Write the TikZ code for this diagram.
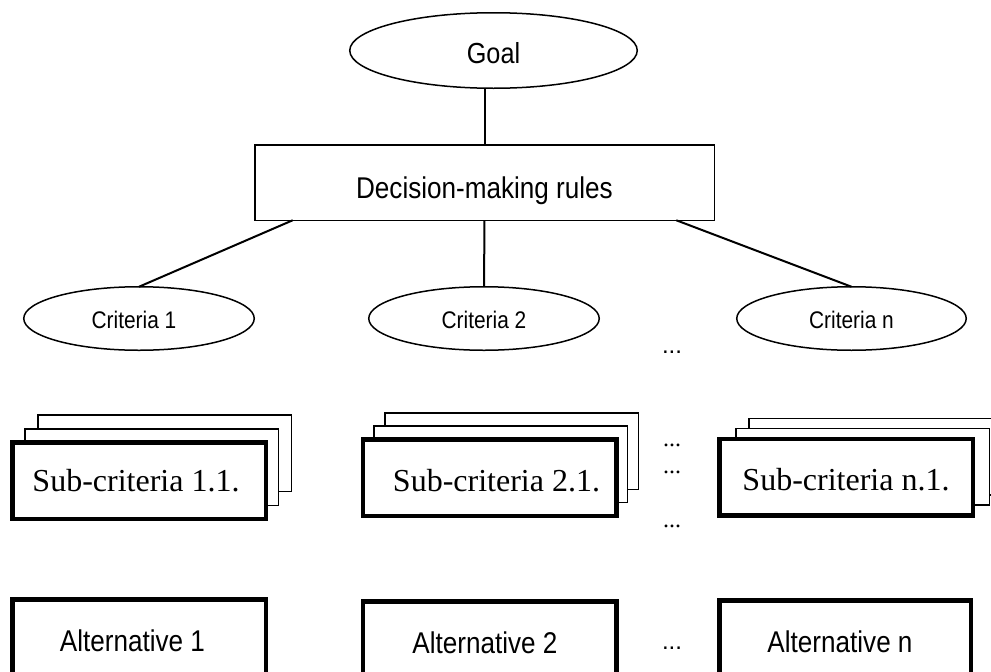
\documentclass[tikz,border=0pt]{standalone}
\usepackage{fontspec}
\usepackage{graphicx}
\setmainfont{Liberation Serif}
\setsansfont{Liberation Sans}
\usetikzlibrary{shapes.geometric,backgrounds}

% slightly condensed sans labels
\newcommand{\narrowtext}[1]{\scalebox{0.87}[1]{#1}}

\begin{document}
\begin{tikzpicture}[x=1pt, y=-1pt,
  every node/.style={inner sep=0pt, outer sep=0pt},
  oval/.style={ellipse, draw, line width=1.5pt, fill=white, text depth=0pt},
  goalshape/.style={oval, minimum width=287.5pt, minimum height=75.5pt,
    text height=25pt, font=\fontsize{29}{29}\selectfont\sffamily},
  critshape/.style={oval, minimum width=230.5pt, minimum height=63.5pt,
    text height=19pt, font=\fontsize{24}{24}\selectfont\sffamily},
  rulebox/.style={rectangle, draw, line width=1.5pt, fill=white,
    minimum width=459.5pt, minimum height=75.5pt, text depth=0pt,
    text height=31pt, font=\fontsize{30}{30}\selectfont\sffamily},
  frontbox/.style={rectangle, draw, line width=4.5pt, fill=white,
    minimum width=253.5pt, minimum height=76.5pt, text depth=0pt},
  subbox/.style={frontbox, font=\fontsize{32}{32}\selectfont\rmfamily},
  altbox/.style={frontbox, text height=28pt,
    font=\fontsize{30}{30}\selectfont\sffamily},
  paper/.style={draw, line width=1.5pt, fill=white},
  link/.style={line width=2pt},
  dots/.style={anchor=base, font=\fontsize{24}{24}\selectfont\sffamily},
  subdots/.style={anchor=base, font=\fontsize{24}{24}\selectfont\rmfamily}
]
\useasboundingbox (0,0) rectangle (991,672);
\clip (0,0) rectangle (991,672);

% top of the hierarchy
\node[goalshape] (goal) at (493.5,50.5) {\narrowtext{Goal}};
\node[rulebox] (rules) at (484.5,182.5) {\narrowtext{Decision-making rules}};

% criteria
\node[critshape] (c1) at (139,318.5) {\narrowtext{Criteria 1}\hspace*{10pt}};
\node[critshape] (c2) at (484,318.5) {\narrowtext{Criteria 2}};
\node[critshape, minimum width=229.5pt] (cn) at (851.5,318.5) {\narrowtext{Criteria n}};

\draw[link] (rules.north) -- (rules.north |- goal.south);
\draw[link] ([xshift=38pt]rules.south west) -- (c1.north);
\draw[link] (rules.south) -- (c2.north);
\draw[link] ([xshift=-38pt]rules.south east) -- (cn.north);

% sub-criteria (front sheets)
\node[subbox, text height=22pt] (s1) at (139,480.5) {Sub-criteria 1.1.\hspace*{6pt}};
\node[subbox, text height=28pt] (s2) at (489.5,477.5) {\hspace*{14pt}Sub-criteria 2.1.};
\node[subbox, text height=26pt] (sn) at (846,477) {Sub-criteria n.1.};

% stacked sheets behind each sub-criteria box
\begin{scope}[on background layer]
  \fill[white] (0,0) rectangle (991,672);
  \draw[paper] ([shift={(25.5,-27.5)}]s1.south west) rectangle ([shift={(25.5,-27.5)}]s1.north east);
  \draw[paper] ([shift={(12.5,-13.5)}]s1.south west) rectangle ([shift={(12.5,-13.5)}]s1.north east);
  \draw[paper] ([shift={(22,-26.5)}]s2.south west) rectangle ([shift={(22,-26.5)}]s2.north east);
  \draw[paper] ([shift={(11,-13.5)}]s2.south west) rectangle ([shift={(11,-13.5)}]s2.north east);
  \draw[paper] ([shift={(29.5,-20.5)}]sn.south west) rectangle ([shift={(29.5,-20.5)}]sn.north east);
  \draw[paper] ([shift={(16.5,-10.5)}]sn.south west) rectangle ([shift={(16.5,-10.5)}]sn.north east);
\end{scope}

% alternatives
\node[altbox] (a1) at (139,637.5) {\narrowtext{Alternative 1}\hspace*{13pt}};
\node[altbox] (a2) at (489.5,639.5) {\narrowtext{Alternative 2}\hspace*{9pt}};
\node[altbox, minimum width=251.5pt] (an) at (845,638.5) {\narrowtext{Alternative n}\hspace*{10pt}};

% ellipsis marks
\node[dots] (dc) at (672,353.5) {...};
\node[subdots] (ds1) at (672,446.5) {...};
\node[subdots] (ds2) at (672,473.5) {...};
\node[subdots] (ds3) at (672,527) {...};
\node[dots] (da) at (672,649) {...};
\end{tikzpicture}
\end{document}
